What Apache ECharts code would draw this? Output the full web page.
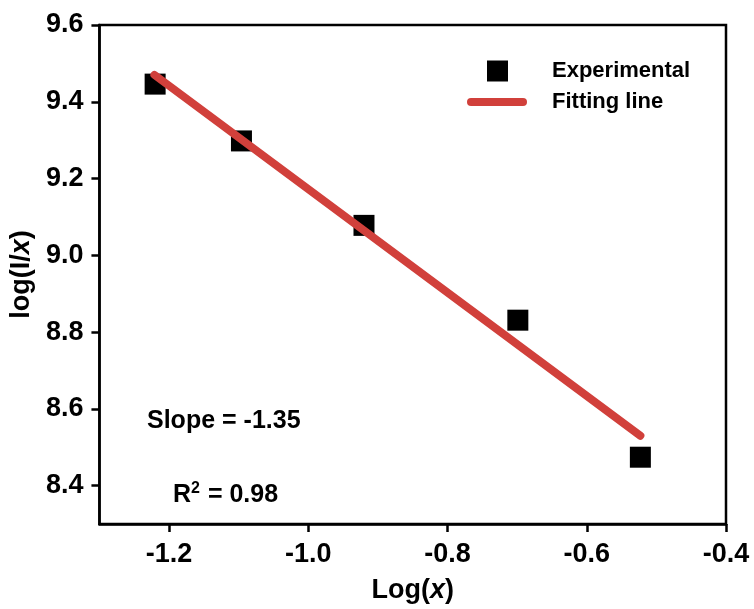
<!DOCTYPE html>
<html>
<head>
<meta charset="utf-8">
<style>
  html, body { margin: 0; padding: 0; background: #ffffff; }
  #chart { width: 754px; height: 609px; }
</style>
<script src="https://cdn.jsdelivr.net/npm/echarts@6/dist/echarts.min.js"></script>
</head>
<body>
<div id="chart"></div>
<script>
var expX = [-1.220, -1.096, -0.920, -0.699, -0.523];
var expY = [9.446, 9.298, 9.078, 8.831, 8.474];
// Fitting line end points
var fitX = [-1.221, -0.523];
var fitY = [9.470, 8.530];
// Axis ticks
var xTicks = [-1.2, -1.0, -0.8, -0.6, -0.4];
var yTicks = [8.4, 8.6, 8.8, 9.0, 9.2, 9.4, 9.6];

var FONT = '"Liberation Sans", Arial, sans-serif';
var chart = echarts.init(document.getElementById('chart'), null, { renderer: 'canvas' });

var option = {
  backgroundColor: '#ffffff',
  animation: false,
  grid: {
    left: 99, right: 28, top: 25, bottom: 82,
    show: true, borderColor: '#000', borderWidth: 2.5, backgroundColor: 'transparent'
  },
  legend: [{
    data: ['Experimental'],
    left: 482, top: 55,
    itemWidth: 21, itemHeight: 21,
    icon: 'rect',
    itemStyle: { opacity: 1 },
    textStyle: { fontFamily: FONT, fontWeight: 'bold', fontSize: 22, color: '#000', padding: [0, 0, 0, 39] }
  }, {
    data: ['Fitting line'],
    left: 462, top: 86,
    itemWidth: 60, itemHeight: 8,
    icon: 'path://M4,0 H56 A4,4 0 0 1 56,8 H4 A4,4 0 0 1 4,0 Z',
    textStyle: { fontFamily: FONT, fontWeight: 'bold', fontSize: 22, color: '#000', padding: [0, 0, 0, 20] }
  }],
  xAxis: {
    type: 'value', min: -1.3, max: -0.4, interval: 0.1,
    name: 'Log({i|x})', nameLocation: 'middle', nameGap: 53,
    nameTextStyle: {
      fontFamily: FONT, fontWeight: 'bold', fontSize: 27, color: '#000',
      rich: { i: { fontFamily: FONT, fontWeight: 'bold', fontStyle: 'italic', fontSize: 27, color: '#000' } }
    },
    axisLine: { show: true, onZero: false, lineStyle: { color: '#000', width: 2.5 } },
    axisTick: { show: true, inside: false, length: 8, lineStyle: { color: '#000', width: 2.5 },
      customValues: xTicks },
    axisLabel: { fontFamily: FONT, fontWeight: 'bold', fontSize: 27, color: '#000', margin: 17,
      customValues: xTicks,
      formatter: function (v) { return v.toFixed(1); } },
    splitLine: { show: false }
  },
  yAxis: {
    type: 'value', min: 8.3, max: 9.6, interval: 0.1,
    name: 'log(I/{i|x})', nameLocation: 'middle', nameGap: 63,
    nameTextStyle: {
      fontFamily: FONT, fontWeight: 'bold', fontSize: 27, color: '#000',
      rich: { i: { fontFamily: FONT, fontWeight: 'bold', fontStyle: 'italic', fontSize: 27, color: '#000' } }
    },
    axisLine: { show: true, onZero: false, lineStyle: { color: '#000', width: 2.5 } },
    axisTick: { show: true, inside: false, length: 8, lineStyle: { color: '#000', width: 2.5 },
      customValues: yTicks },
    axisLabel: { fontFamily: FONT, fontWeight: 'bold', fontSize: 27, color: '#000', margin: 16,
      customValues: yTicks,
      formatter: function (v) { return v.toFixed(1); } },
    splitLine: { show: false }
  },
  series: [{
    name: 'Experimental',
    type: 'scatter',
    symbol: 'rect',
    symbolSize: 21,
    itemStyle: { color: '#000', opacity: 1 },
    data: expX.map(function (x, i) { return [x, expY[i]]; }),
    z: 2
  }, {
    name: 'Fitting line',
    type: 'line',
    symbol: 'none',
    lineStyle: { color: '#d1403b', width: 8, cap: 'round' },
    itemStyle: { color: '#d1403b' },
    data: fitX.map(function (x, i) { return [x, fitY[i]]; }),
    z: 3
  }],
  graphic: [{
    type: 'text', left: 147, top: 409,
    style: { text: 'Slope = -1.35', fontFamily: FONT, fontWeight: 'bold', fontSize: 25, fill: '#000' }
  }, {
    type: 'text', left: 173, top: 481,
    style: {
      text: 'R{sup|2} = 0.98',
      fontFamily: FONT, fontWeight: 'bold', fontSize: 25, fill: '#000',
      rich: {
        sup: { fontFamily: FONT, fontWeight: 'bold', fontSize: 16, verticalAlign: 'top', padding: [0, 1, 12, 0] }
      }
    }
  }]
};
chart.setOption(option);
</script>
</body>
</html>
